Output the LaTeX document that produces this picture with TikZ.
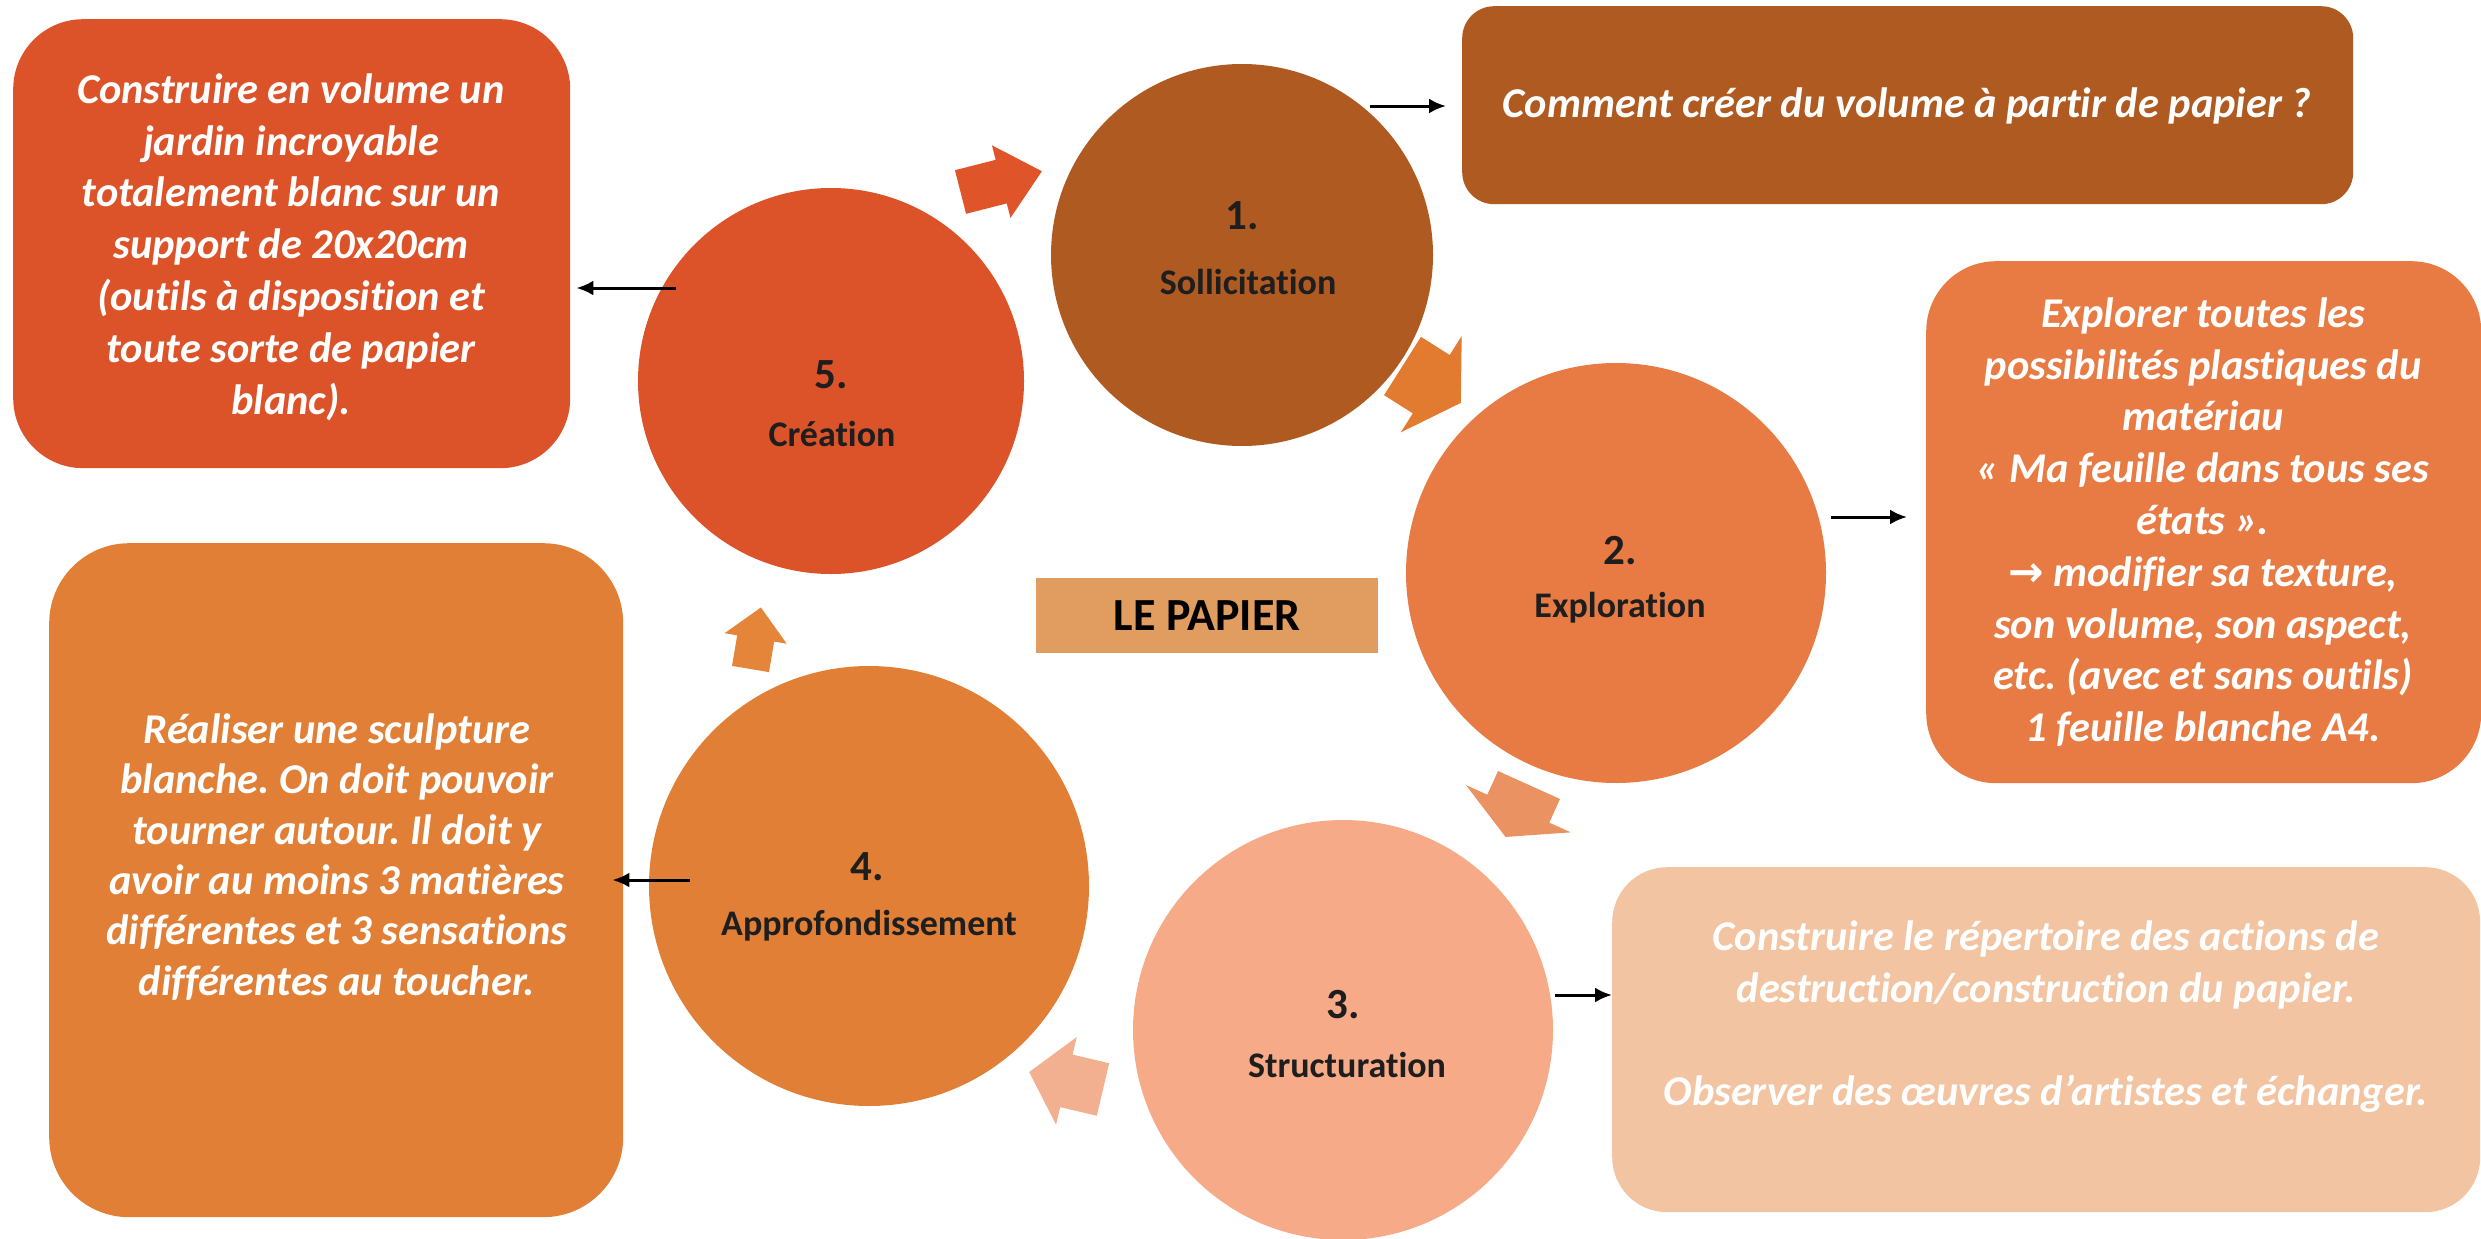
\documentclass[tikz,border=0pt]{standalone}
\usepackage{fontspec}
\setmainfont[Ligatures={NoCommon}]{Carlito}
\newfontfamily\symfont{DejaVu Sans}
\usepackage{graphicx}
\usetikzlibrary{arrows.meta}
\frenchspacing

\definecolor{cFive}{HTML}{DD5329}
\definecolor{cOne}{HTML}{AE5A21}
\definecolor{cTwo}{HTML}{E87B43}
\definecolor{cThree}{HTML}{F7AA87}
\definecolor{cThreeBox}{HTML}{F2C4A1}
\definecolor{cFour}{HTML}{E27F36}
\definecolor{cPapier}{HTML}{E09D5F}
\definecolor{arOne}{HTML}{DF5529}
\definecolor{arTwo}{HTML}{E27A30}
\definecolor{arThree}{HTML}{EB9262}
\definecolor{arFour}{HTML}{F2B090}
\definecolor{arFive}{HTML}{E5853A}
\definecolor{txtdark}{HTML}{1E1E1E}

% #1 tail middle, #2 rotation, #3 shaft length, #4 head length, #5 shaft half width, #6 head half width, #7 colour
\newcommand\myblockarrow[7]{%
  \fill[#7, shift={(#1)}, rotate=#2] (0,-#5) -- (#3,-#5) -- (#3,-#6) -- ({#3+#4},0) -- (#3,#6) -- (#3,#5) -- (0,#5) -- cycle;}

\begin{document}
\begin{tikzpicture}[x=1pt,y=-1pt,
  circ/.style={circle, inner sep=0pt, draw=none},
  card/.style={rectangle, inner sep=0pt, draw=none, anchor=north west},
  boxtext/.style={text=white, font=\fontsize{42.4}{51.8}\selectfont\bfseries\itshape, align=center, inner sep=0pt},
  numtext/.style={text=txtdark, font=\fontsize{43}{50}\selectfont\bfseries, inner sep=0pt},
  labtext/.style={text=txtdark, font=\fontsize{36}{43}\selectfont\bfseries, inner sep=0pt},
  link/.style={line width=3pt, -{Latex[length=17pt,width=15pt]}},
]
\useasboundingbox (0,0) rectangle (2481,1239);

% circles
\node[circ, fill=cOne,   minimum size=382pt] (c1) at (1242,255) {};
\node[circ, fill=cTwo,   minimum size=420pt] (c2) at (1616,573) {};
\node[circ, fill=cThree, minimum size=420pt] (c3) at (1343,1030) {};
\node[circ, fill=cFour,  minimum size=440pt] (c4) at (869,886) {};
\node[circ, fill=cFive,  minimum size=386pt] (c5) at (831,381) {};

\node[numtext] (n1) at (1242,216) {1.};
\node[labtext] (l1) at (1248,282) {Sollicitation};
\node[numtext] (n2) at (1620,551) {2.};
\node[labtext] (l2) at (1620,608) {Exploration};
\node[numtext] (n3) at (1343,1005) {3.};
\node[labtext] (l3) at (1347,1065) {Structuration};
\node[numtext] (n4) at (867,867) {4.};
\node[labtext] (l4) at (869,926) {Approfondissement};
\node[numtext] (n5) at (831,375) {5.};
\node[labtext] (l5) at (832,434) {Création};

% block arrows of the cycle
\myblockarrow{960.5,192}{14.3}{42}{42}{22.5}{37.5}{arOne}
\myblockarrow{1402.5,366}{-32.3}{34}{35}{34.5}{57}{arTwo}
\myblockarrow{1529,785}{-114.3}{26}{31}{34}{57.5}{arThree}
\myblockarrow{1103,1089.5}{166.7}{37.6}{38.3}{27}{45}{arFour}
\myblockarrow{750.5,669}{80.4}{31}{31.4}{18.75}{31.5}{arFive}

% cards
\node[card, fill=cFive, rounded corners=70pt, minimum width=557pt, minimum height=449pt] (tl) at (13,19) {};
\node[card, fill=cOne, rounded corners=32pt, minimum width=891pt, minimum height=198pt] (tr) at (1462,6) {};
\node[card, fill=cTwo, rounded corners=70pt, minimum width=555pt, minimum height=522pt] (rt) at (1926,261) {};
\node[card, fill=cThreeBox, rounded corners=55pt, minimum width=868pt, minimum height=345pt] (br) at (1612,867) {};
\node[card, fill=cFour, rounded corners=80pt, minimum width=574pt, minimum height=674pt] (bl) at (49,543) {};
\node[card, fill=cPapier, minimum width=342pt, minimum height=75pt] (pap) at (1036,578) {};
\node[text=black, font=\fontsize{46}{55}\selectfont\bfseries, inner sep=0pt] (papt) at (pap.center) {LE PAPIER};

% card texts
\node[boxtext] (tlt) at (291,247) {Construire en volume un\\ jardin incroyable\\ totalement blanc sur un\\ support de 20x20cm\\ (outils à disposition et\\ toute sorte de papier\\ blanc).};
\node[boxtext] (trt) at (1907,106) {Comment créer du volume à partir de papier ?};
\node[boxtext] (rtt) at (2203,522) {Explorer toutes les\\ possibilités plastiques du\\ matériau\\ « Ma feuille dans tous ses\\ états ».\\ {\symfont\bfseries →} modifier sa texture,\\ son volume, son aspect,\\ etc. (avec et sans outils)\\ 1 feuille blanche A4.};
\node[boxtext] (brt) at (2046,1017) {Construire le répertoire des actions de\\ destruction/construction du papier.\\[51.4pt] Observer des œuvres d’artistes et échanger.};
\node[boxtext, font=\fontsize{42.4}{50.3}\selectfont\bfseries\itshape] (blt) at (337,857) {Réaliser une sculpture\\ blanche. On doit pouvoir\\ tourner autour. Il doit y\\ avoir au moins 3 matières\\ différentes et 3 sensations\\ différentes au toucher.};

% connectors
\coordinate (s1) at (1370,106);
\coordinate (s2) at (1831,517);
\coordinate (s3) at (1555,995);
\coordinate (s4) at (690,880);
\coordinate (s5) at (676,288);
\draw[link, shorten >=16pt] (s1) -- (s1 -| tr.west);
\draw[link, shorten >=19pt] (s2) -- (s2 -| rt.west);
\draw[link] (s3) -- (s3 -| br.west);
\draw[link, shorten >=-11pt] (s4) -- (s4 -| bl.east);
\draw[link, shorten >=6pt] (s5) -- (s5 -| tl.east);
\end{tikzpicture}
\end{document}
